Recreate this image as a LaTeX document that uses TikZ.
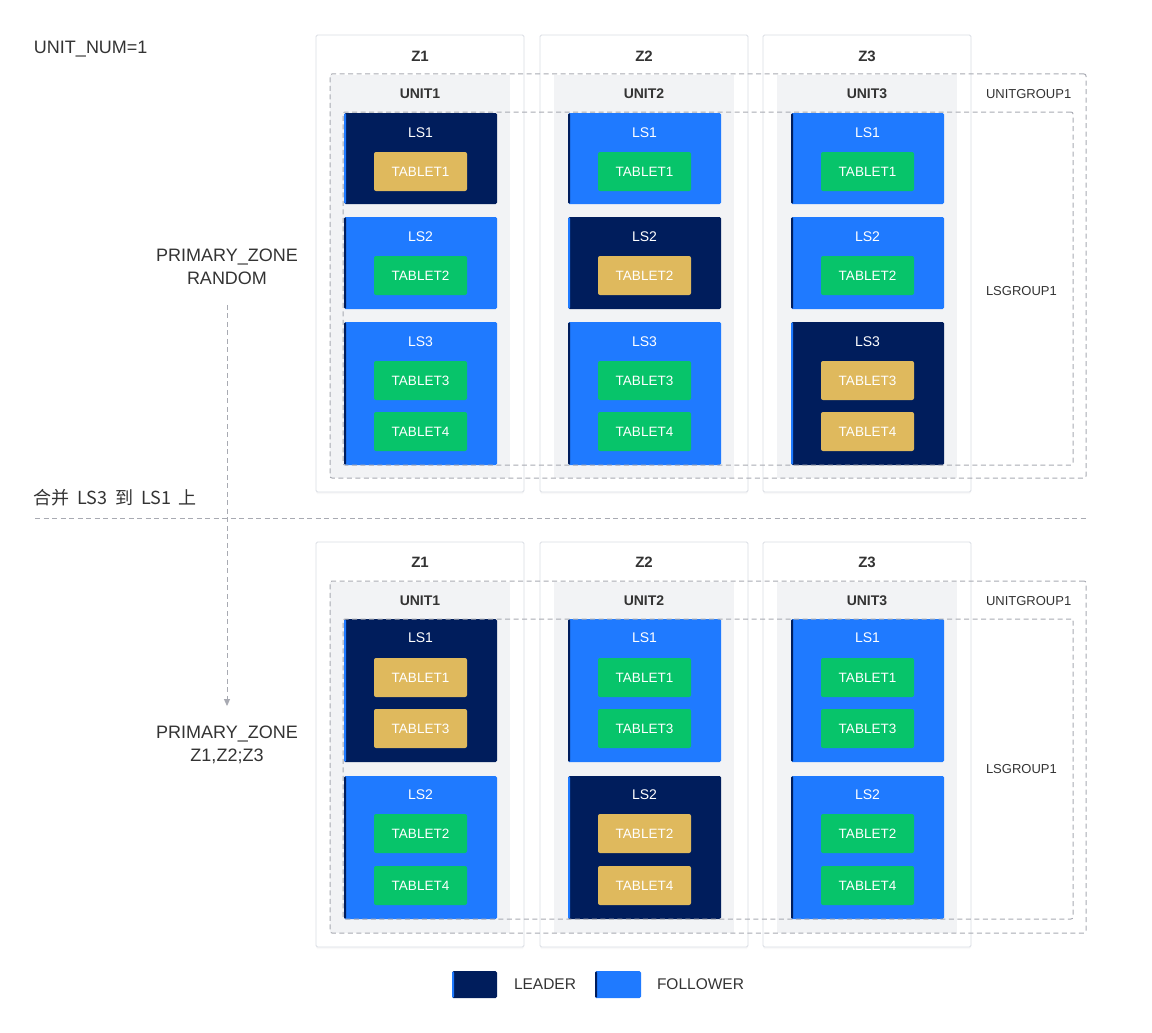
\documentclass[tikz,border=0pt]{standalone}
\usepackage{fontspec}
\setmainfont{Liberation Sans}
\newfontfamily\cjk[WordSpace=1.9]{Noto Sans CJK SC}
\usepackage{tikz}
\usetikzlibrary{arrows.meta,positioning,shadows}
\definecolor{leaderblue}{RGB}{0,29,92}
\definecolor{followerblue}{RGB}{31,122,255}
\definecolor{tabgold}{RGB}{223,185,93}
\definecolor{tabgreen}{RGB}{7,196,106}
\definecolor{unitgray}{RGB}{242,243,245}
\definecolor{zoneline}{RGB}{218,221,228}
\definecolor{dashgray}{RGB}{168,170,178}
\definecolor{darktext}{RGB}{51,51,51}

\begin{document}
\begin{tikzpicture}[x=1pt, y=-1pt,
  every node/.style={inner sep=0pt, outer sep=0pt, text=darktext},
  zonebox/.style={anchor=north west, draw=zoneline, fill=white, line width=0.8pt, rounded corners=1.5pt,
    minimum width=208, drop shadow={shadow xshift=0pt, shadow yshift=-2pt, opacity=0.05}},
  unitbox/.style={anchor=north west, fill=unitgray, minimum width=180},
  grpbox/.style={anchor=north west, draw=dashgray, line width=1pt, dash pattern=on 5pt off 3.5pt, rounded corners=2pt},
  lsbox/.style={anchor=north west, minimum width=153, rounded corners=1.5pt},
  leader/.style={lsbox, fill=leaderblue, path picture={\fill[followerblue] (path picture bounding box.north west)
    rectangle ([xshift=2pt]path picture bounding box.south west);}},
  follower/.style={lsbox, fill=followerblue, path picture={\fill[leaderblue] (path picture bounding box.north west)
    rectangle ([xshift=2pt]path picture bounding box.south west);}},
  tablet/.style={minimum width=93, minimum height=39, rounded corners=2pt, text=white, font=\fontsize{13.5}{16}\selectfont},
  leadertab/.style={tablet, fill=tabgold},
  followertab/.style={tablet, fill=tabgreen},
  zonetitle/.style={font=\fontsize{15}{18}\selectfont\bfseries},
  unittitle/.style={font=\fontsize{14}{17}\selectfont\bfseries},
  lstitle/.style={text=white, font=\fontsize{14}{17}\selectfont},
  grptitle/.style={anchor=west, font=\fontsize{13}{16}\selectfont},
  note/.style={anchor=west, font=\fontsize{18}{22}\selectfont},
  zonetext/.style={align=center, font=\fontsize{18}{23}\selectfont},
  sepline/.style={draw=dashgray, line width=1pt, dash pattern=on 5pt off 3.5pt},
  flowarrow/.style={sepline, -{Triangle[length=7pt,width=6pt]}},
  legendtext/.style={anchor=west, font=\fontsize{15.5}{18}\selectfont}]
\useasboundingbox (0,0) rectangle (1152,1033);

% left side notes
\node[note] (unitnum) at (34,49) {UNIT\_NUM=1};
\node[zonetext] (pzrandom) at (227,267) {PRIMARY\_ZONE\\RANDOM};
\node[note] (merge) at (34,498) {\cjk 合并 LS3 到 LS1 上};
\node[zonetext] (pzlist) at (227,745) {PRIMARY\_ZONE\\Z1,Z2;Z3};
\coordinate (sepl) at (35,518);
\coordinate (sepr) at (1086,518);
\draw[sepline] (sepl) -- (sepr);
\draw[flowarrow, shorten <=20pt, shorten >=20pt] (pzrandom) -- (pzlist);

% before the merge
\foreach \z/\zx/\ra/\rb/\rc in {1/316/leader/follower/follower,2/540/follower/leader/follower,3/763/follower/follower/leader}{
  \node[zonebox, minimum height=457] (zt\z) at (\zx,35) {};
  \node[zonetitle] (zt\z n) at (\zx+104,56) {Z\z};
  \node[unitbox, minimum height=403] (ut\z) at (\zx+14,75) {};
  \node[unittitle] (ut\z n) at (\zx+104,94) {UNIT\z};
  \node[\ra, minimum height=91] (lsa\z) at (\zx+28,113) {};
  \node[lstitle] (lsa\z n) at (\zx+104.5,133) {LS1};
  \node[\ra tab] (tba\z) at (\zx+104.5,171.5) {TABLET1};
  \node[\rb, minimum height=92] (lsb\z) at (\zx+28,217) {};
  \node[lstitle] (lsb\z n) at (\zx+104.5,237) {LS2};
  \node[\rb tab] (tbb\z) at (\zx+104.5,275.5) {TABLET2};
  \node[\rc, minimum height=143] (lsc\z) at (\zx+28,322) {};
  \node[lstitle] (lsc\z n) at (\zx+104.5,342) {LS3};
  \node[\rc tab] (tbc\z) at (\zx+104.5,380.5) {TABLET3};
  \node[\rc tab] (tbd\z) at (\zx+104.5,431.5) {TABLET4};
}
\node[grpbox, minimum width=756, minimum height=404] (ugt) at (330,74) {};
\node[grptitle] (ugt n) at (986,94) {UNITGROUP1};
\node[grpbox, minimum width=730, minimum height=353] (lgt) at (343,112) {};
\node[grptitle] (lgt n) at (986,291) {LSGROUP1};

% after the merge
\foreach \z/\zx/\ra/\rb in {1/316/leader/follower,2/540/follower/leader,3/763/follower/follower}{
  \node[zonebox, minimum height=405] (zb\z) at (\zx,542) {};
  \node[zonetitle] (zb\z n) at (\zx+104,562) {Z\z};
  \node[unitbox, minimum height=351] (ub\z) at (\zx+14,582) {};
  \node[unittitle] (ub\z n) at (\zx+104,601) {UNIT\z};
  \node[\ra, minimum height=143] (lse\z) at (\zx+28,619) {};
  \node[lstitle] (lse\z n) at (\zx+104.5,638) {LS1};
  \node[\ra tab] (tbe\z) at (\zx+104.5,677.5) {TABLET1};
  \node[\ra tab] (tbf\z) at (\zx+104.5,728.5) {TABLET3};
  \node[\rb, minimum height=143] (lsf\z) at (\zx+28,776) {};
  \node[lstitle] (lsf\z n) at (\zx+104.5,795) {LS2};
  \node[\rb tab] (tbg\z) at (\zx+104.5,833.5) {TABLET2};
  \node[\rb tab] (tbh\z) at (\zx+104.5,885.5) {TABLET4};
}
\node[grpbox, minimum width=756, minimum height=352] (ugb) at (330,581) {};
\node[grptitle] (ugb n) at (986,601) {UNITGROUP1};
\node[grpbox, minimum width=730, minimum height=300] (lgb) at (343,619) {};
\node[grptitle] (lgb n) at (986,769) {LSGROUP1};

% legend
\node[leader, minimum width=45, minimum height=27] (legl) at (452,971) {};
\node[legendtext] (legl n) at (514,984) {LEADER};
\node[follower, minimum width=46, minimum height=27] (legf) at (595,971) {};
\node[legendtext] (legf n) at (657,984) {FOLLOWER};
\end{tikzpicture}
\end{document}
